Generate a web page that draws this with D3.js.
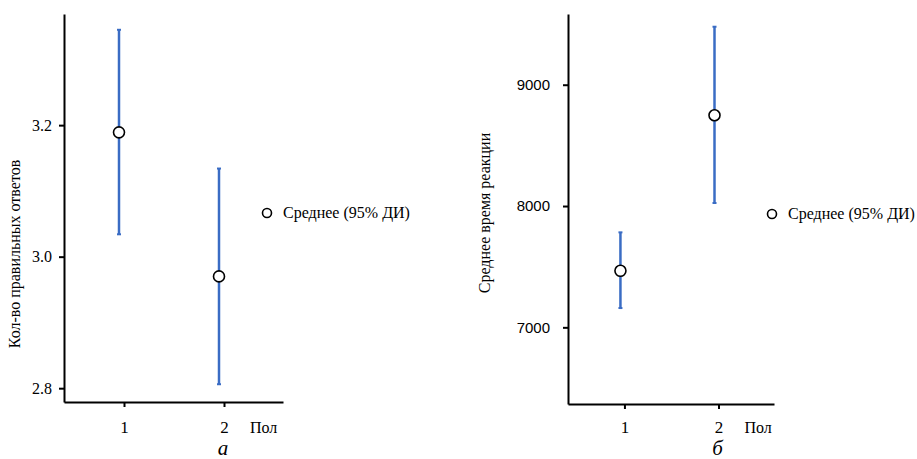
<!DOCTYPE html>
<html><head><meta charset="utf-8">
<script src="https://cdn.jsdelivr.net/npm/d3@7"></script>
<style>body{margin:0;background:#fff}svg{display:block}</style>
</head><body><svg id="c" width="917" height="459"></svg>
<script>
const groups = [1, 2];
const xTickLabels = ["1", "2"];
const correctMean = [3.189, 2.970];
const correctLow = [3.034, 2.806];
const correctHigh = [3.345, 3.134];
const correctTicks = [2.8, 3.0, 3.2];
const rtMean = [7466, 8748];
const rtLow = [7159, 8025];
const rtHigh = [7783, 9478];
const rtTicks = [7000, 8000, 9000];
const legendLabel = "Среднее (95% ДИ)";
const xAxisTitle = "Пол";

const svg = d3.select("#c");
const blue = "#3a6cc4";
const SERIF = '"Liberation Serif"';
const SANS = '"Liberation Sans"';
const labelBase = 433;

const panels = [
  {mean: correctMean, low: correctLow, high: correctHigh, ticks: correctTicks, fmt: d3.format(".1f"),
   yDomain: [2.779, 3.369], yRange: [402, 14], xRange: [64, 283], tickFont: SERIF, tickSize: 16, tickGap: -12,
   ylabel: "Кол-во правильных ответов", ylabelX: 20, ylabelY: 254, letter: "а",
   legendX: 267, legendY: 213, shift: -5},
  {mean: rtMean, low: rtLow, high: rtHigh, ticks: rtTicks, fmt: d3.format("d"),
   yDomain: [6368, 9583], yRange: [404, 14], xRange: [568, 774], tickFont: SANS, tickSize: 15, tickGap: -18,
   ylabel: "Среднее время реакции", ylabelX: 490, ylabelY: 213, letter: "б",
   legendX: 772, legendY: 214, shift: -4}
];

panels.forEach(p => {
  const y = d3.scaleLinear().domain(p.yDomain).range(p.yRange);
  const x = d3.scaleLinear().domain([0.4, 2.59]).range(p.xRange);
  const g = svg.append("g");
  const x0 = p.xRange[0], yb = p.yRange[0];

  const ya = g.append("g").attr("transform", `translate(${x0},0)`)
    .call(d3.axisLeft(y).tickValues(p.ticks).tickFormat(p.fmt).tickSize(5).tickSizeOuter(0))
    .attr("font-family", null).attr("font-size", null);
  ya.select(".domain").attr("stroke", "#000").attr("stroke-width", 2);
  ya.selectAll(".tick line").attr("stroke", "#000").attr("stroke-width", 2);
  ya.selectAll(".tick text").style("font-family", p.tickFont).style("font-size", p.tickSize + "px")
    .attr("fill", "#000").attr("x", p.tickGap);

  const xa = g.append("g").attr("transform", `translate(0,${yb})`)
    .call(d3.axisBottom(x).tickValues(groups).tickFormat((d, i) => xTickLabels[i]).tickSize(5).tickSizeOuter(0))
    .attr("font-family", null).attr("font-size", null);
  xa.select(".domain").attr("stroke", "#000").attr("stroke-width", 2);
  xa.selectAll(".tick line").attr("stroke", "#000").attr("stroke-width", 2);
  xa.selectAll(".tick text").style("font-family", SERIF).style("font-size", "17px").attr("fill", "#000")
    .attr("dy", null).attr("y", labelBase - yb);

  g.append("text").style("font-family", SERIF).attr("x", x(2) + 26).attr("y", labelBase).style("font-size", "16px")
    .text(xAxisTitle);
  g.append("text").style("font-family", SERIF).attr("x", x(2) - 1).attr("y", 455).attr("text-anchor", "middle")
    .style("font-style", "italic").style("font-size", "21px").text(p.letter);

  g.append("text").style("font-family", SERIF).attr("transform", `translate(${p.ylabelX},${p.ylabelY}) rotate(-90)`)
    .attr("text-anchor", "middle").style("font-size", "16px").text(p.ylabel);

  groups.forEach((gv, i) => {
    const cx = x(gv) + p.shift;
    g.append("line").attr("x1", cx).attr("x2", cx).attr("y1", y(p.low[i])).attr("y2", y(p.high[i]))
      .attr("stroke", blue).attr("stroke-width", 2.5);
    [p.low[i], p.high[i]].forEach(v => g.append("line").attr("x1", cx - 2).attr("x2", cx + 2)
      .attr("y1", y(v)).attr("y2", y(v)).attr("stroke", blue).attr("stroke-width", 2));
    g.append("circle").attr("cx", cx).attr("cy", y(p.mean[i])).attr("r", 5.5)
      .attr("fill", "#fff").attr("stroke", "#000").attr("stroke-width", 1.6);
  });

  g.append("circle").attr("cx", p.legendX).attr("cy", p.legendY).attr("r", 4.5)
    .attr("fill", "#fff").attr("stroke", "#000").attr("stroke-width", 1.6);
  g.append("text").style("font-family", SERIF).attr("x", p.legendX + 16).attr("y", p.legendY + 5)
    .style("font-size", "16px").text(legendLabel);
});
</script></body></html>
